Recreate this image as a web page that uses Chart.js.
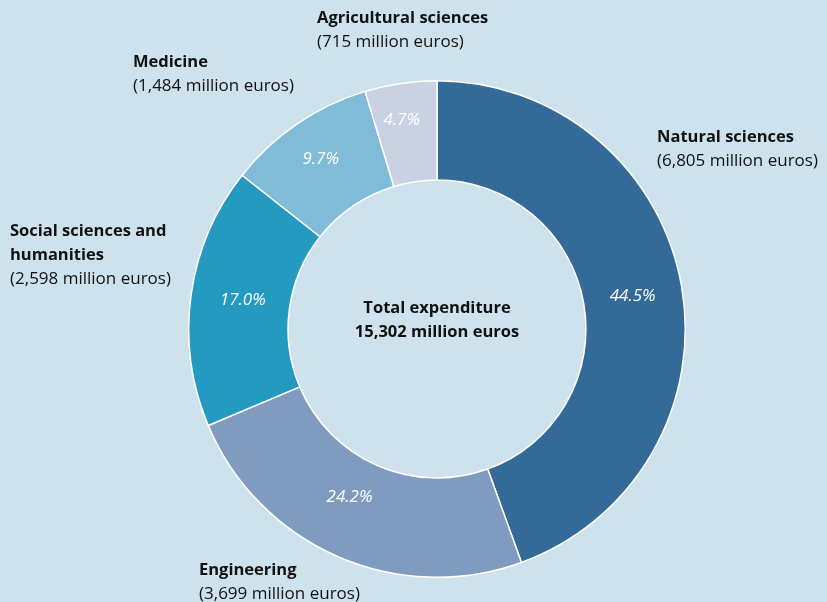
<!DOCTYPE html>
<html><head><meta charset="utf-8">
<script src="https://cdn.jsdelivr.net/npm/chart.js@4/dist/chart.umd.min.js"></script>
<style>
html,body{margin:0;padding:0;background:#cde2ec;}
#wrap{width:827px;height:602px;position:relative;}
</style></head>
<body><div id="wrap"><canvas id="c" width="827" height="602"></canvas></div>
<script>
const categories = ["Natural sciences","Engineering","Social sciences and humanities","Medicine","Agricultural sciences"];
const values = [6805, 3699, 2598, 1484, 715];
const percentLabels = ["44.5%","24.2%","17.0%","9.7%","4.7%"];
const amountLabels = ["(6,805 million euros)","(3,699 million euros)","(2,598 million euros)","(1,484 million euros)","(715 million euros)"];
const titleLines = [["Natural sciences"],["Engineering"],["Social sciences and","humanities"],["Medicine"],["Agricultural sciences"]];
const centerLines = ["Total expenditure","15,302 million euros"];
const colors = ["#336a97","#7f9cc0","#259ac0","#80bcd8","#c9d1e3"];

const FONT = "'Open Sans', sans-serif";
const labelPos = [[657,137],[199,570],[10,231],[133,62],[317,18]];
const pctRadiusFrac = [0.5, 0.4, 0.48, 0.58, 0.64];
const pctAngleShift = [0, 0.07, 0.02, 0, -0.02];

const textPlugin = {
  id:'texts',
  afterDatasetsDraw(chart){
    const ctx = chart.ctx;
    const meta = chart.getDatasetMeta(0);
    ctx.save();
    ctx.textBaseline = 'middle';
    ctx.fillStyle = '#ffffff';
    ctx.textAlign = 'center';
    ctx.font = "italic 17px " + FONT;
    meta.data.forEach((arc,i)=>{
      const mid = (arc.startAngle + arc.endAngle)/2 + pctAngleShift[i];
      const r = arc.innerRadius + pctRadiusFrac[i]*(arc.outerRadius - arc.innerRadius);
      ctx.fillText(percentLabels[i], arc.x + Math.cos(mid)*r, arc.y + Math.sin(mid)*r + 1);
    });
    ctx.textAlign = 'left';
    ctx.fillStyle = '#111111';
    labelPos.forEach((pos,i)=>{
      let y = pos[1];
      ctx.font = "bold 16.5px " + FONT;
      titleLines[i].forEach(t=>{ ctx.fillText(t, pos[0], y); y += 24; });
      ctx.font = "17px " + FONT;
      ctx.fillText(amountLabels[i], pos[0], y);
    });
    const a = meta.data[0];
    ctx.textAlign = 'center';
    ctx.font = "bold 16.5px " + FONT;
    ctx.fillText(centerLines[0], a.x, a.y - 21);
    ctx.fillText(centerLines[1], a.x, a.y + 3);
    ctx.restore();
  }
};

new Chart(document.getElementById('c'), {
  type:'doughnut',
  data:{labels:categories, datasets:[{data:values, backgroundColor:colors, borderColor:'#ffffff', borderWidth:1.5}]},
  options:{
    responsive:false, animation:false, cutout:'60%',
    layout:{padding:{top:80, bottom:24, left:47, right:0}},
    plugins:{legend:{display:false}, tooltip:{enabled:false}}
  },
  plugins:[textPlugin]
});
</script></body></html>
